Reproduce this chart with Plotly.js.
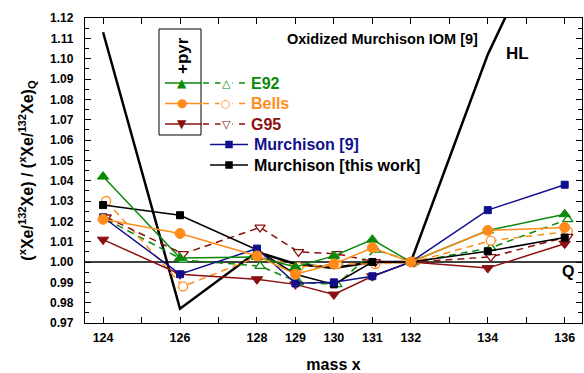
<!DOCTYPE html>
<html><head><meta charset="utf-8">
<script src="https://cdn.plot.ly/plotly-3.0.1.min.js"></script>
<style>body{margin:0;padding:0;background:#fff}#chart{width:584px;height:373px}</style>
</head><body><div id="chart"></div>
<script>
const masses = [124, 126, 128, 129, 130, 131, 132, 134, 136];
const e92      = [1.042, 1.002, 1.0025, 0.9975, 1.003, 1.011, 1.000, 1.0155, 1.0235];
const e92Pyr   = [1.021, 1.001, 0.998, 0.990, 0.989, 1.006, 1.000, 1.007, 1.021];
const bells    = [1.021, 1.014, 1.003, 0.994, 0.999, 1.007, 1.000, 1.0155, 1.017];
const bellsPyr = [1.030, 0.988, 1.003, 0.9975, 0.999, 0.999, 1.000, 1.0105, 1.015];
const g95      = [1.011, 0.994, 0.9915, 0.989, 0.984, 0.993, 1.000, 0.997, 1.009];
const g95Pyr   = [1.022, 1.004, 1.017, 1.005, 1.004, 1.000, 1.000, 1.0025, 1.0125];
const murch9   = [1.022, 0.994, 1.0066, 0.9895, 0.990, 0.993, 1.000, 1.0255, 1.038];
const murchTW  = [1.028, 1.023, 1.006, 0.994, 0.989, 1.000, 1.000, 1.0053, 1.012];
const hlMasses = [124, 126, 128, 129, 130, 131, 132, 134, 136];
const hl       = [1.113, 0.977, 1.005, 0.999, 0.997, 1.000, 1.000, 1.102, 1.182];
const xTickVals = [124, 126, 128, 129, 130, 131, 132, 134, 136];
const xTickText = ['124','126','128','129','130','131','132','134','136'];
const yTickVals = [0.97,0.98,0.99,1.00,1.01,1.02,1.03,1.04,1.05,1.06,1.07,1.08,1.09,1.10,1.11,1.12];

const GREEN='#0a8a0a', ORANGE='#ff8c1a', DRED='#8b1010', NAVY='#10108c', BLACK='#000';
const FONT='Liberation Sans, Arial, sans-serif';
const off = 0.08;

function solid(y,color,sym,name){return {x:masses,y:y,type:'scatter',mode:'lines+markers',name:name,
  line:{color:color,width:1.5},marker:{symbol:sym,size:10,color:color,line:{color:color,width:1}}};}
function dashed(y,color,sym,name){return {x:masses.map(m=>m+off),y:y,type:'scatter',mode:'lines+markers',name:name,
  line:{color:color,width:1.5,dash:'7px,5px'},marker:{symbol:sym,size:9,color:'#fff',line:{color:color,width:1.3}}};}

const traces = [
  {x:hlMasses,y:hl,type:'scatter',mode:'lines',name:'HL',line:{color:BLACK,width:2.5},cliponaxis:true},
  dashed(e92Pyr,GREEN,'triangle-up','E92 +pyr'),
  dashed(bellsPyr,ORANGE,'circle','Bells +pyr'),
  dashed(g95Pyr,DRED,'triangle-down','G95 +pyr'),
  solid(g95,DRED,'triangle-down','G95'),
  {x:masses,y:murchTW,type:'scatter',mode:'lines+markers',name:'Murchison [this work]',
    line:{color:BLACK,width:1.5},marker:{symbol:'square',size:7,color:BLACK,line:{color:BLACK,width:1}}},
  {x:masses,y:murch9,type:'scatter',mode:'lines+markers',name:'Murchison [9]',
    line:{color:NAVY,width:1.5},marker:{symbol:'square',size:7,color:NAVY,line:{color:NAVY,width:1}}},
  solid(e92,GREEN,'triangle-up','E92'),
  solid(bells,ORANGE,'circle','Bells')
];

// legend drawn in paper coords
const W=584,H=373,L=85,R=2,T=18,B=50;
const pw=W-L-R, ph=H-T-B;
const px=v=>(v-L)/pw, py=v=>(H-B-v)/ph;
const shapes=[
  {type:'line',xref:'paper',yref:'y',x0:0,x1:1,y0:1,y1:1,line:{color:BLACK,width:1.5},layer:'below'},
  {type:'rect',xref:'paper',yref:'paper',x0:px(159),x1:px(201),y0:py(135),y1:py(29),line:{color:BLACK,width:1}}
];
const ann=[];
const rows=[
  {y:83,c:GREEN,f:'▲',o:'△',t:'E92'},
  {y:103.5,c:ORANGE,f:'●',o:'○',t:'Bells'},
  {y:124,c:DRED,f:'▼',o:'▽',t:'G95'}
];
rows.forEach(r=>{
  shapes.push({type:'line',xref:'paper',yref:'paper',x0:px(165),x1:px(202),y0:py(r.y),y1:py(r.y),line:{color:r.c,width:1.5}});
  shapes.push({type:'line',xref:'paper',yref:'paper',x0:px(203),x1:px(246),y0:py(r.y),y1:py(r.y),line:{color:r.c,width:1.5,dash:'6px,6px'}});
  ann.push({xref:'paper',yref:'paper',x:px(182),y:py(r.y),text:r.f,showarrow:false,font:{family:'DejaVu Sans',size:12,color:r.c},xanchor:'center',yanchor:'middle'});
  ann.push({xref:'paper',yref:'paper',x:px(226),y:py(r.y),text:r.o,showarrow:false,font:{family:'DejaVu Sans',size:11,color:r.c},xanchor:'center',yanchor:'middle',bgcolor:'#fff'});
  ann.push({xref:'paper',yref:'paper',x:px(249),y:py(r.y),text:'<b>'+r.t+'</b>',showarrow:false,font:{family:FONT,size:16,color:r.c},xanchor:'left',yanchor:'middle'});
});
[{y:144.5,c:NAVY,t:'Murchison [9]'},{y:165,c:BLACK,t:'Murchison [this work]'}].forEach(r=>{
  shapes.push({type:'line',xref:'paper',yref:'paper',x0:px(210),x1:px(248),y0:py(r.y),y1:py(r.y),line:{color:r.c,width:1.5}});
  shapes.push({type:'rect',xref:'paper',yref:'paper',x0:px(226),x1:px(232),y0:py(r.y+3),y1:py(r.y-3),line:{color:r.c,width:1.5},fillcolor:r.c});
  ann.push({xref:'paper',yref:'paper',x:px(252),y:py(r.y),text:'<b>'+r.t+'</b>',showarrow:false,font:{family:FONT,size:16,color:r.c},xanchor:'left',yanchor:'middle'});
});
ann.push({xref:'paper',yref:'paper',x:px(182),y:py(56),text:'<b>+pyr</b>',textangle:-90,showarrow:false,font:{family:FONT,size:17,color:BLACK},xanchor:'center',yanchor:'middle'});
ann.push({xref:'paper',yref:'paper',x:px(382),y:py(39),text:'<b>Oxidized Murchison IOM [9]</b>',showarrow:false,font:{family:FONT,size:14.5,color:BLACK},xanchor:'center',yanchor:'middle'});
ann.push({xref:'paper',yref:'paper',x:px(517),y:py(53),text:'<b>HL</b>',showarrow:false,font:{family:FONT,size:17,color:BLACK},xanchor:'center',yanchor:'middle'});
ann.push({xref:'paper',yref:'paper',x:px(568),y:py(271),text:'<b>Q</b>',showarrow:false,font:{family:FONT,size:16,color:BLACK},xanchor:'center',yanchor:'middle'});

const axisCommon={showgrid:false,zeroline:false,showline:true,linecolor:BLACK,linewidth:1.2,mirror:'ticks',
  ticks:'inside',ticklen:6,tickwidth:1,tickcolor:BLACK};
const layout={
  width:W,height:H,margin:{l:L,r:R,t:T,b:B},paper_bgcolor:'#fff',plot_bgcolor:'#fff',showlegend:false,
  font:{family:FONT,color:BLACK},
  xaxis:Object.assign({},axisCommon,{range:[123.53,136.45],tickmode:'array',tickvals:xTickVals,ticktext:xTickText,
    tickfont:{family:FONT,size:12.5,weight:'bold'},ticklabelstandoff:3,
    minor:{ticks:'inside',ticklen:6,tickwidth:1,tickcolor:BLACK,dtick:1,tick0:124},
    title:{text:'<b>mass x</b>',font:{family:FONT,size:16},standoff:20}}),
  yaxis:Object.assign({},axisCommon,{range:[0.97,1.12],tickmode:'array',tickvals:yTickVals,tickformat:'.2f',
    tickfont:{family:FONT,size:12,weight:'bold'},ticklabelstandoff:8,
    minor:{ticks:'inside',ticklen:4,tickwidth:1,tickcolor:BLACK,dtick:0.005,tick0:0.97},
    title:{text:'<b>(<sup>x</sup>Xe/<sup>132</sup>Xe) / (<sup>x</sup>Xe/<sup>132</sup>Xe)<sub>Q</sub></b>',font:{family:FONT,size:16},standoff:12}}),
  shapes:shapes,annotations:ann
};
Plotly.newPlot('chart',traces,layout,{displayModeBar:false,staticPlot:true});
</script></body></html>
